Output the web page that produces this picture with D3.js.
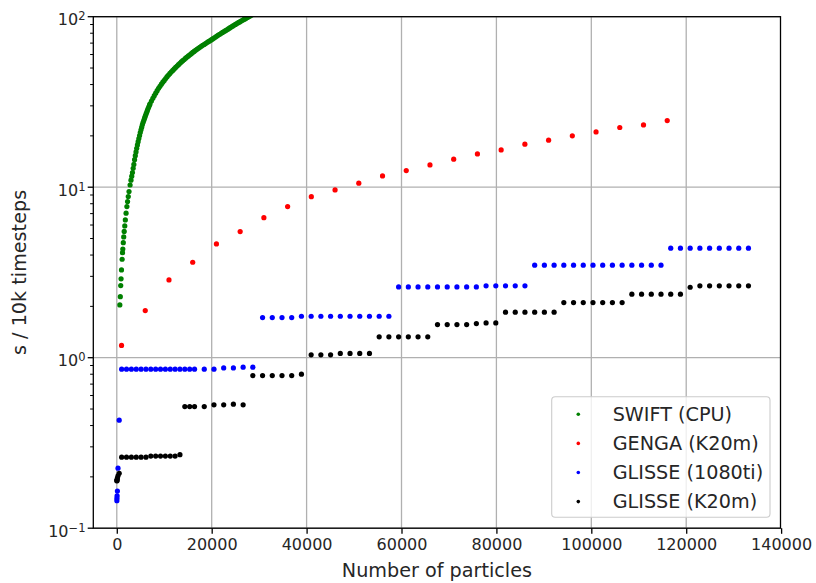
<!DOCTYPE html>
<html>
<head>
<meta charset="utf-8">
<script src="https://cdn.jsdelivr.net/npm/d3@7"></script>
<style>
  html, body { margin: 0; padding: 0; background: #fff; }
  svg { display: block; font-family: "DejaVu Sans", sans-serif; }
</style>
</head>
<body>
<svg id="chart" width="816" height="583"></svg>
<script>
// Timing per 10k steps versus particle count, four integrators.

// SWIFT (CPU)
const swiftN = [
  640, 740, 830, 900, 990, 1120, 1210, 1270, 1370, 1460, 1560, 1680, 1800, 1960, 2130,
  2270, 2420, 2580, 2800, 2990, 3150,
  3300, 3450, 3600, 3750, 3900, 4050, 4200, 4350, 4500, 4650, 4800, 4950, 5100, 5250,
  5400, 5550, 5700, 5850, 6000, 6150, 6300, 6450, 6600, 6750, 6900, 7000,
  7300, 7600, 7900, 8200, 8500, 8800, 9100, 9400, 9700, 10000, 10300, 10600, 10900,
  11200, 11500, 11800, 12100, 12400, 12700, 13000, 13300, 13600, 13900, 14200, 14500,
  14800, 15100, 15400, 15700, 16000, 16300, 16600, 16900, 17200, 17500, 17800, 18100,
  18400, 18700, 19000, 19300, 19600, 19900, 20200, 20500, 20800, 21100, 21400, 21700,
  22000, 22300, 22600, 22900, 23200, 23500, 23800, 24100, 24400, 24700, 25000, 25300,
  25600, 25900, 26200, 26500, 26800, 27100, 27400, 27700, 28000, 28300, 28600
];
const swiftTime = [
  2.04, 2.28, 2.65, 2.90, 3.27, 3.78, 4.13, 4.34, 4.73, 5.11, 5.50, 5.93, 6.43, 7.04, 7.70,
  8.23, 8.81, 9.43, 10.3, 11.0, 11.6,
  12.2, 12.9, 13.6, 14.5, 15.3, 16.1, 16.9, 17.7, 18.5, 19.3, 20.1, 20.9, 21.7, 22.5,
  23.3, 24.0, 24.7, 25.4, 26.1, 26.8, 27.5, 28.2, 28.9, 29.6, 30.3, 30.8,
  32.0, 33.2, 34.4, 35.6, 36.8, 38.0, 39.1, 40.2, 41.3, 42.3, 43.4, 44.5, 45.5,
  46.5, 47.5, 48.4, 49.4, 50.4, 51.4, 52.3, 53.3, 54.3, 55.2, 56.1, 57.1,
  58.0, 58.9, 59.8, 60.7, 61.7, 62.6, 63.5, 64.4, 65.2, 66.1, 67.0, 67.9,
  68.7, 69.6, 70.5, 71.4, 72.2, 73.1, 74.1, 75.0, 76.0, 77.0, 78.0, 78.9,
  79.9, 80.9, 81.9, 82.8, 83.8, 84.8, 85.9, 86.9, 88.0, 89.0, 90.1, 91.1,
  92.2, 93.2, 94.3, 95.3, 96.4, 97.4, 98.5, 99.5, 100.6, 101.6, 102.7
];

// GENGA (K20m)
const gengaN = [
  1000, 6000, 11000, 16000, 21000, 26000, 31000, 36000, 41000, 46000, 51000, 56000,
  61000, 66000, 71000, 76000, 81000, 86000, 91000, 96000, 101000, 106000, 111000, 116000
];
const gengaTime = [
  1.18, 1.89, 2.86, 3.63, 4.65, 5.49, 6.63, 7.70, 8.80, 9.64, 10.56, 11.65,
  12.52, 13.51, 14.60, 15.68, 16.55, 17.87, 18.87, 20.0, 21.1, 22.4, 23.2, 24.6
];

// GLISSE runs share the same particle counts
const glisseN = [
  16, 32, 64, 128, 256, 512,
  1024, 2048, 3072, 4096, 5120, 6144, 7168, 8192, 9216, 10240, 11264, 12288, 13312, 14336, 15360, 16384,
  18432, 20480, 22528, 24576, 26624, 28672, 30720, 32768, 34816, 36864, 38912, 40960, 43008, 45056,
  47104, 49152, 51200, 53248, 55296, 57344, 59392, 61440, 63488, 65536, 67584, 69632, 71680, 73728,
  75776, 77824, 79872, 81920, 83968, 86016, 88064, 90112, 92160, 94208, 96256, 98304, 100352, 102400,
  104448, 106496, 108544, 110592, 112640, 114688, 116736, 118784, 120832, 122880, 124928, 126976,
  129024, 131072, 133120
];
// GLISSE (1080ti)
const glisse1080Time = [
  0.145, 0.150, 0.155, 0.165, 0.225, 0.43,
  0.856, 0.856, 0.856, 0.856, 0.856, 0.856, 0.856, 0.856, 0.856, 0.856, 0.856, 0.856, 0.856, 0.856, 0.856, 0.856,
  0.856, 0.856, 0.871, 0.871, 0.88, 0.88, 1.72, 1.72, 1.72, 1.72, 1.75, 1.75, 1.75, 1.75,
  1.75, 1.75, 1.75, 1.75, 1.75, 1.75, 2.60, 2.60, 2.60, 2.60, 2.60, 2.60, 2.60, 2.60,
  2.60, 2.64, 2.64, 2.64, 2.64, 2.64, 3.49, 3.49, 3.49, 3.49, 3.49, 3.49, 3.49, 3.49,
  3.49, 3.49, 3.49, 3.49, 3.49, 3.49, 4.39, 4.39, 4.39, 4.39, 4.39, 4.39,
  4.39, 4.39, 4.39
];
// GLISSE (K20m)
const glisseK20Time = [
  0.190, 0.190, 0.193, 0.197, 0.203, 0.210,
  0.261, 0.261, 0.261, 0.261, 0.261, 0.261, 0.265, 0.265, 0.265, 0.265, 0.265, 0.265, 0.270, 0.517, 0.517, 0.517,
  0.517, 0.529, 0.529, 0.534, 0.529, 0.785, 0.785, 0.785, 0.785, 0.785, 0.80, 1.04, 1.04, 1.04,
  1.06, 1.06, 1.06, 1.06, 1.325, 1.325, 1.325, 1.325, 1.325, 1.325, 1.564, 1.564, 1.564, 1.564,
  1.585, 1.60, 1.60, 1.849, 1.849, 1.849, 1.849, 1.849, 1.849, 2.105, 2.105, 2.105, 2.105, 2.105,
  2.105, 2.105, 2.357, 2.357, 2.357, 2.357, 2.357, 2.357, 2.59, 2.64, 2.64, 2.64,
  2.64, 2.64, 2.64
];

const xTicks = [0, 20000, 40000, 60000, 80000, 100000, 120000, 140000];
const yTickExponents = [-1, 0, 1, 2];

const seriesNames = ["SWIFT (CPU)", "GENGA (K20m)", "GLISSE (1080ti)", "GLISSE (K20m)"];
const seriesColors = ["#008000", "#ff0000", "#0000ff", "#000000"];

// ---- layout ----
const svg = d3.select("#chart");
const plot = { left: 93.3, right: 780.5, top: 16.7, bottom: 528.2 };
const x = d3.scaleLinear().domain([-4950, 139870]).range([plot.left, plot.right]);
const y = d3.scaleLog().domain([0.1, 100]).range([plot.bottom, plot.top]);

const gridColor = "#b0b0b0";
const textColor = "#262626";
const tickFont = 16;
const labelFont = 19.2;

svg.append("defs").append("clipPath").attr("id", "plotClip")
  .append("rect")
  .attr("x", plot.left).attr("y", plot.top)
  .attr("width", plot.right - plot.left).attr("height", plot.bottom - plot.top);

// grid
const grid = svg.append("g").attr("stroke", gridColor).attr("stroke-width", 1.3);
xTicks.forEach(t => {
  const px = x(t);
  if (px > plot.left && px < plot.right) {
    grid.append("line").attr("x1", px).attr("x2", px).attr("y1", plot.top).attr("y2", plot.bottom);
  }
});
yTickExponents.forEach(e => {
  const py = y(Math.pow(10, e));
  grid.append("line").attr("x1", plot.left).attr("x2", plot.right).attr("y1", py).attr("y2", py);
});

// data
const series = [
  { n: swiftN, t: swiftTime },
  { n: gengaN, t: gengaTime },
  { n: glisseN, t: glisse1080Time },
  { n: glisseN, t: glisseK20Time }
];
const marks = svg.append("g").attr("clip-path", "url(#plotClip)");
series.forEach((s, i) => {
  marks.append("g").attr("fill", seriesColors[i])
    .selectAll("circle")
    .data(d3.range(s.n.length))
    .join("circle")
    .attr("cx", j => x(s.n[j]))
    .attr("cy", j => y(s.t[j]))
    .attr("r", 2.6);
});

// frame
svg.append("rect")
  .attr("x", plot.left).attr("y", plot.top)
  .attr("width", plot.right - plot.left).attr("height", plot.bottom - plot.top)
  .attr("fill", "none").attr("stroke", "#000").attr("stroke-width", 1.3);

// x axis ticks and labels
const xAxis = d3.axisBottom(x).tickValues(xTicks).tickSize(5.6).tickPadding(4.5).tickFormat(d3.format("d"));
const gx = svg.append("g").attr("transform", `translate(0,${plot.bottom})`).call(xAxis);
gx.select(".domain").remove();
gx.selectAll(".tick line").attr("stroke", "#000").attr("stroke-width", 1.3);
gx.selectAll(".tick text").attr("font-size", tickFont).attr("fill", textColor)
  .attr("font-family", "DejaVu Sans, sans-serif");

// y axis: major ticks with 10^n labels, minor ticks at 2..9
const majorVals = yTickExponents.map(e => Math.pow(10, e));
const minorVals = [];
for (let e = -1; e < 2; e++) for (let m = 2; m <= 9; m++) minorVals.push(m * Math.pow(10, e));
const gy = svg.append("g").attr("stroke", "#000").attr("stroke-width", 1.3);
majorVals.forEach(v => {
  gy.append("line").attr("x1", plot.left - 5.6).attr("x2", plot.left).attr("y1", y(v)).attr("y2", y(v));
});
gy.append("g").attr("stroke-width", 1).selectAll("line").data(minorVals).join("line")
  .attr("x1", plot.left - 3.2).attr("x2", plot.left).attr("y1", d => y(d)).attr("y2", d => y(d));

const yLabels = svg.append("g").attr("fill", textColor).attr("font-size", tickFont).attr("text-anchor", "end");
yTickExponents.forEach(e => {
  const txt = yLabels.append("text").attr("x", 85.5).attr("y", y(Math.pow(10, e)) + 8.3);
  txt.append("tspan").text("10");
  txt.append("tspan").attr("font-size", 11.5).attr("dy", -5).text(e < 0 ? "\u2212" + Math.abs(e) : String(e));
});

// axis titles
svg.append("text")
  .attr("x", (plot.left + plot.right) / 2).attr("y", 577)
  .attr("text-anchor", "middle").attr("font-size", labelFont).attr("fill", textColor)
  .text("Number of particles");
svg.append("text")
  .attr("transform", `translate(26,${(plot.top + plot.bottom) / 2}) rotate(-90)`)
  .attr("text-anchor", "middle").attr("font-size", labelFont).attr("fill", textColor)
  .text("s / 10k timesteps");

// legend
const legend = svg.append("g");
legend.append("rect")
  .attr("x", 551.7).attr("y", 396.7).attr("width", 218.3).attr("height", 120.6)
  .attr("rx", 3.5).attr("ry", 3.5)
  .attr("fill", "#fff").attr("fill-opacity", 0.8)
  .attr("stroke", "#cccccc").attr("stroke-width", 1.1);
seriesNames.forEach((name, i) => {
  const rowY = 414.3 + i * 29.1;
  legend.append("circle").attr("cx", 578.3).attr("cy", rowY).attr("r", 1.8).attr("fill", seriesColors[i]);
  legend.append("text").attr("x", 612.7).attr("y", rowY + 6.8)
    .attr("font-size", labelFont).attr("fill", textColor).text(name);
});
</script>
</body>
</html>
